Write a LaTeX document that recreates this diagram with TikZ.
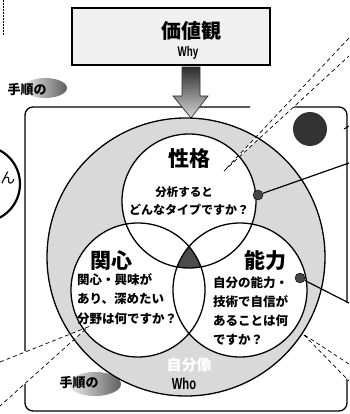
\documentclass[tikz,border=0pt]{standalone}
\usepackage{fontspec}
\newfontfamily\jp{Noto Sans CJK JP}
\newfontfamily\lat{Liberation Sans}
\begin{document}
\begin{tikzpicture}[x=1pt,y=-1pt,
  frm/.style={line width=1.3pt},
  circ/.style={line width=1.3pt},
  dsh/.style={dash pattern=on 4pt off 3pt, line width=0.7pt},
  dotn/.style={circle, inner sep=0pt, minimum size=10pt, draw=black, line width=0.4pt, fill=gray!55!black},
  jt/.style={font=\jp\bfseries, inner sep=0pt},
  cond/.style={font=\lat\bfseries, inner sep=0pt, xscale=0.7},
  lead/.style={line width=1.2pt},
  wedge/.style={fill=white}
]
\useasboundingbox (0,0) rectangle (349,414);
% faint dotted mark top-left
\draw[densely dotted, line width=0.5pt] (3,0) -- (3,35);
% top box
\node[draw, line width=1.8pt, fill=gray!12, minimum width=198pt, minimum height=57pt, inner sep=0pt] (box) at (171,36.5) {};
\node[jt, font=\jp\bfseries\fontsize{20}{20}\selectfont] (kachi) at (191,31) {価値観};
\node[cond, font=\lat\bfseries\fontsize{14}{14}\selectfont] (why) at (188,53) {Why};
% frame with gaps
\draw[frm, rounded corners=8pt] (250,107) -- (25,107) -- (25,351);
\draw[frm, rounded corners=8pt] (25,384) -- (25,411) -- (347,411) -- (347,374);
\draw[frm, rounded corners=8pt] (347,303) -- (347,107) -- (288,107);
% arrow: dark at the top, light at the tip (drawn in bands)
\begin{scope}
  \clip (182,67) -- (200,67) -- (200,96) -- (208,96) -- (191,118) -- (173,96) -- (182,96) -- cycle;
  \foreach \i in {0,...,25} {
    \pgfmathsetmacro{\shadeval}{82-2.6*\i}
    \fill[black!\shadeval] (170,{67+2*\i}) rectangle (212,{69.5+2*\i});
  }
\end{scope}
\draw[black!80, line width=0.7pt] (182,67) -- (200,67) -- (200,96) -- (208,96) -- (191,118) -- (173,96) -- (182,96) -- cycle;
% partial circle at left
\draw[line width=2.2pt] (-18,184) circle (38pt);
\node[jt, font=\jp\fontsize{15}{15}\selectfont] (n) at (8,178) {ん};
% dark circle top right
\fill[gray!40!black] (310,129) circle (17pt);
\draw[line width=1pt] (344,129) -- (349,126);
% big circle and venn
\coordinate (oc) at (186,257);
\coordinate (ct) at (189,201);
\coordinate (cl) at (138,290);
\coordinate (cr) at (240,290);
\fill[gray!30] (oc) circle (139pt);
\fill[white] (ct) circle (67pt) (cl) circle (67pt) (cr) circle (67pt);
\begin{scope}
  \clip (ct) circle (67pt);
  \clip (cl) circle (67pt);
  \fill[gray!60!black] (cr) circle (67pt);
\end{scope}
% bottom-left blob
\shade[left color=gray!15, right color=gray!75!black] (95,384) ellipse (26pt and 12pt);
% top-left blob
\shade[left color=gray!15, right color=gray!75!black] (45,88) ellipse (22pt and 10pt);
% callout wedges
\coordinate (t1) at (224,171);
\coordinate (a1) at (349,38);
\coordinate (b1) at (349,56);
\coordinate (t2) at (88,327);
\coordinate (a2) at (0,362);
\coordinate (b2) at (0,406);
\coordinate (t3) at (303,334);
\coordinate (a3) at (349,364);
\coordinate (b3) at (349,381);
\fill[wedge] (t1) -- (a1) -- (b1) -- cycle;
\fill[wedge] (t2) -- (a2) -- (b2) -- cycle;
\fill[wedge] (t3) -- (a3) -- (b3) -- cycle;
% outlines
\draw[circ] (oc) circle (139pt);
\draw[circ] (ct) circle (67pt) (cl) circle (67pt) (cr) circle (67pt);
\draw[dsh] (a1) -- (t1) -- (b1);
\draw[dsh] (a2) -- (t2) -- (b2);
\draw[dsh] (a3) -- (t3) -- (b3);
% leaders and dots
\coordinate (e1) at (349,163);
\coordinate (e2) at (349,303);
\node[dotn] (d1) at (258,195) {};
\node[dotn] (d2) at (300,278) {};
\draw[lead] (d1) -- (e1);
\draw[lead] (d2) -- (e2);
% texts
\node[jt, font=\jp\bfseries\fontsize{13}{13}\selectfont] (tj1) at (27,90) {手順の};
\node[jt, font=\jp\bfseries\fontsize{13}{13}\selectfont] (tj2) at (79,383) {手順の};
\node[jt, font=\jp\bfseries\fontsize{21}{21}\selectfont] (seikaku) at (189,159) {性格};
\node[jt, font=\jp\bfseries\fontsize{11.5}{11.5}\selectfont] (s1) at (184,192) {分析すると};
\node[jt, font=\jp\bfseries\fontsize{12}{12}\selectfont] (s2) at (189,210) {どんなタイプですか？};
\node[jt, font=\jp\bfseries\fontsize{21}{21}\selectfont] (kanshin) at (111,261) {関心};
\node[jt, font=\jp\bfseries\fontsize{21}{21}\selectfont] (nouryoku) at (265,261) {能力};
\begin{scope}[every node/.style={jt, font=\jp\bfseries\fontsize{12.5}{12.5}\selectfont, anchor=west}]
\node (k1) at (77,280) {関心・興味が};
\node (k2) at (77,299) {あり、深めたい};
\node (k3) at (77,319) {分野は何ですか？};
\node (r1) at (213,283) {自分の能力・};
\node (r2) at (213,302) {技術で自信が};
\node (r3) at (213,321) {あることは何};
\node (r4) at (213,340) {ですか？};
\end{scope}
\node[jt, font=\jp\bfseries\fontsize{15}{15}\selectfont, text=white] (jibun) at (189,365) {自分像};
\node[cond, font=\lat\bfseries\fontsize{16}{16}\selectfont] (who) at (184,384) {Who};
\end{tikzpicture}
\end{document}
